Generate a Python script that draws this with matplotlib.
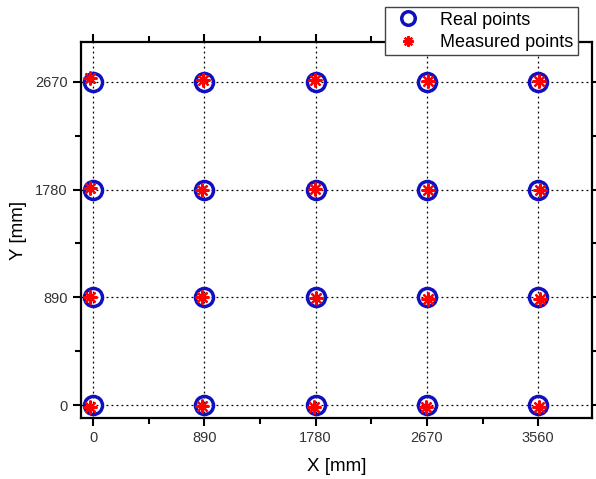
import matplotlib
matplotlib.use("Agg")
import matplotlib.pyplot as plt
from matplotlib.ticker import MultipleLocator

plt.rcParams['font.family'] = ['Liberation Sans', 'DejaVu Sans']

# grid of reference points (mm)
grid_x = [0, 890, 1780, 2670, 3560]
grid_y = [0, 890, 1780, 2670]

# measured points, row by row (y = 0, 890, 1780, 2670)
meas_x = [
    [-27, 869, 1767, 2665, 3565],
    [-27, 874, 1780, 2678, 3573],
    [-27, 874, 1775, 2678, 3573],
    [-27, 882, 1775, 2678, 3565],
]
meas_y = [
    [-19, -5, -19, -19, -14],
    [890, 895, 885, 876, 876],
    [1794, 1780, 1785, 1780, 1775],
    [2703, 2684, 2684, 2675, 2675],
]

real_x = [gx for gy in grid_y for gx in grid_x]
real_y = [gy for gy in grid_y for gx in grid_x]
mx = [v for row in meas_x for v in row]
my = [v for row in meas_y for v in row]

fig = plt.figure(figsize=(5.96, 4.79), dpi=100)
ax = fig.add_axes([81 / 596, 1 - 418 / 479, 511 / 596, 376 / 479])

ax.grid(True, which='major', color='black', linestyle=(0, (1.5, 2.5)), linewidth=0.9)
ax.set_axisbelow(True)

ax.plot(real_x, real_y, linestyle='none', marker='o', markersize=13,
        markerfacecolor='none', markeredgecolor='#1010c0', markeredgewidth=2.5,
        label='Real points')
ax.plot(mx, my, linestyle='none', marker=(8, 2, 0), markersize=10,
        color='red', markeredgecolor='red', markeredgewidth=1.6,
        label='Measured points')

ax.set_xlim(-96, 3990)
ax.set_ylim(-107, 3000)
ax.set_xticks(grid_x)
ax.set_yticks(grid_y)
ax.xaxis.set_minor_locator(MultipleLocator(445))
ax.yaxis.set_minor_locator(MultipleLocator(445))
ax.tick_params(which='both', direction='out', top=True, right=True,
               labelsize=10.5, width=1.5, colors='black', labelcolor='#333333')
ax.tick_params(which='major', length=6)
ax.tick_params(which='minor', length=4)
for s in ax.spines.values():
    s.set_linewidth(1.6)

ax.set_xlabel('X [mm]', fontsize=13.5, labelpad=9)
ax.set_ylabel('Y [mm]', fontsize=13.5, labelpad=6)

leg = fig.legend(loc='upper right', bbox_to_anchor=(578 / 596, 1 - 7 / 479),
                 borderaxespad=0, fontsize=13, fancybox=False, framealpha=1,
                 edgecolor='#444444', labelspacing=0.3, borderpad=0.25,
                 handletextpad=0.8, handlelength=2.0, markerscale=0.75)
leg.get_frame().set_linewidth(1.0)

fig.savefig('out.png', dpi=100)
